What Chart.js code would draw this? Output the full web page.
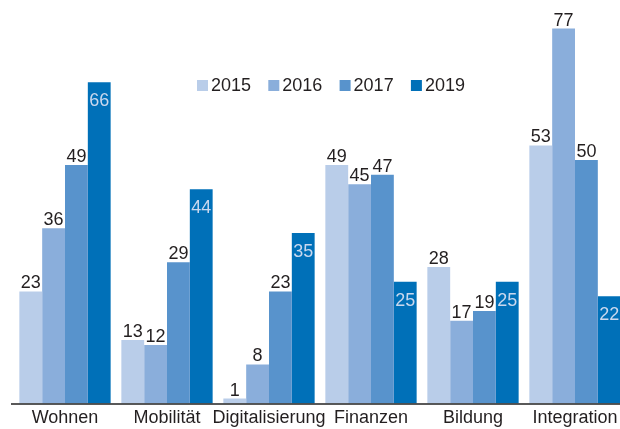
<!DOCTYPE html>
<html>
<head>
<meta charset="utf-8">
<script src="https://cdn.jsdelivr.net/npm/chart.js@4"></script>
<style>
  html, body { margin: 0; padding: 0; background: #fff; overflow: hidden; width: 620px; height: 429px; }
  canvas { display: block; }
</style>
</head>
<body>
<canvas id="chart" width="626" height="429"></canvas>
<script>
const categories = ["Wohnen", "Mobilität", "Digitalisierung", "Finanzen", "Bildung", "Integration"];
const years = ["2015", "2016", "2017", "2019"];
const values2015 = [23, 13, 1, 49, 28, 53];
const values2016 = [36, 12, 8, 45, 17, 77];
const values2017 = [49, 29, 23, 47, 19, 50];
const values2019 = [66, 44, 35, 25, 25, 22];
const seriesColors = ["#b9cde9", "#8aaedb", "#5893cc", "#0070b8"];

const FONT = "18px 'Liberation Sans', Arial, sans-serif";

// value labels: dark above the bar, the 2019 ones light inside the bar
const valueLabels = {
  id: "valueLabels",
  afterDatasetsDraw(chart) {
    const ctx = chart.ctx;
    ctx.save();
    ctx.font = FONT;
    ctx.textAlign = "center";
    ctx.textBaseline = "alphabetic";
    chart.data.datasets.forEach((ds, i) => {
      const meta = chart.getDatasetMeta(i);
      meta.data.forEach((bar, j) => {
        const inside = i === 3;
        ctx.fillStyle = inside ? "#c9d8ee" : "#231f20";
        ctx.fillText(String(ds.data[j]), bar.x, inside ? bar.y + 24 : bar.y - 3);
      });
    });
    ctx.restore();
  },
};

// legend row inside the plot, plus the baseline across the whole width
const legendAndAxis = {
  id: "legendAndAxis",
  afterDraw(chart) {
    const ctx = chart.ctx;
    const area = chart.chartArea;
    const y0 = chart.scales.y.getPixelForValue(0);
    ctx.save();
    ctx.strokeStyle = "#222";
    ctx.lineWidth = 1.3;
    ctx.beginPath();
    ctx.moveTo(area.left - 3, y0 + 0.6);
    ctx.lineTo(chart.width, y0 + 0.6);
    ctx.stroke();

    ctx.font = FONT;
    ctx.textAlign = "left";
    ctx.textBaseline = "alphabetic";
    let x = 197;
    chart.data.datasets.forEach((ds) => {
      ctx.fillStyle = ds.backgroundColor;
      ctx.fillRect(x, 80, 11, 11);
      ctx.fillStyle = "#231f20";
      ctx.fillText(ds.label, x + 14, 91);
      x += 71.3;
    });
    ctx.restore();
  },
};

new Chart(document.getElementById("chart"), {
  type: "bar",
  data: {
    labels: categories,
    datasets: [
      { label: years[0], data: values2015, backgroundColor: seriesColors[0] },
      { label: years[1], data: values2016, backgroundColor: seriesColors[1] },
      { label: years[2], data: values2017, backgroundColor: seriesColors[2] },
      { label: years[3], data: values2019, backgroundColor: seriesColors[3] },
    ],
  },
  options: {
    responsive: false,
    animation: false,
    devicePixelRatio: 1,
    layout: { padding: { left: 14, right: 0, top: 14, bottom: -4 } },
    datasets: {
      bar: { categoryPercentage: 0.895, barPercentage: 1, borderWidth: 0 },
    },
    scales: {
      x: {
        grid: { display: false, drawTicks: false },
        border: { display: false },
        ticks: {
          autoSkip: false,
          maxRotation: 0,
          minRotation: 0,
          padding: 4,
          color: "#231f20",
          font: { family: "'Liberation Sans', Arial, sans-serif", size: 18 },
        },
      },
      y: {
        display: false,
        min: 0,
        max: 80,
      },
    },
    plugins: {
      legend: { display: false },
      tooltip: { enabled: false },
    },
  },
  plugins: [valueLabels, legendAndAxis],
});
</script>
</body>
</html>
